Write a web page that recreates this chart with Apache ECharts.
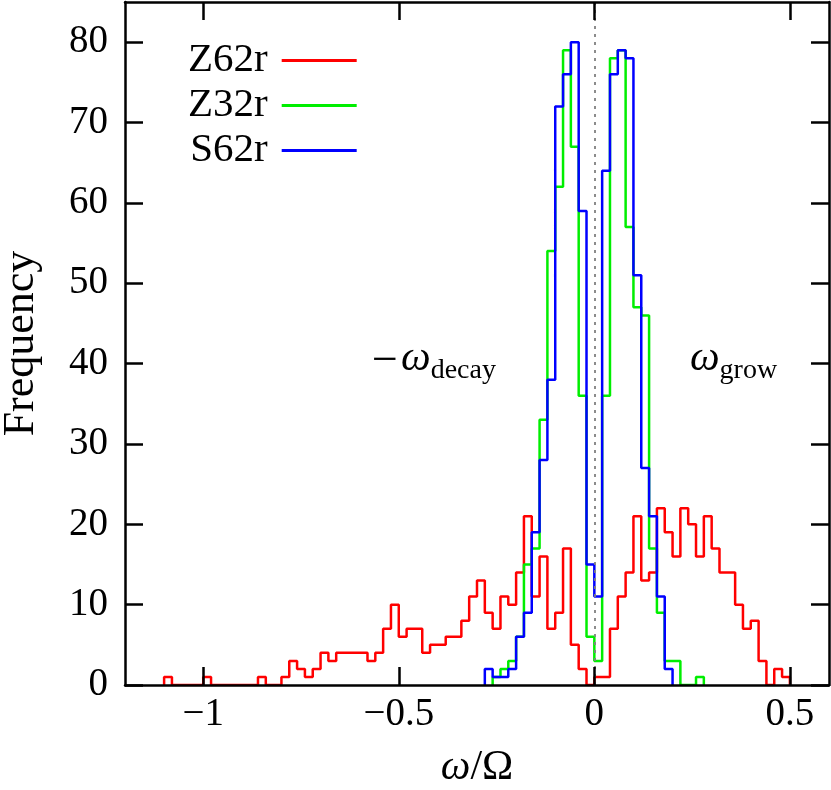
<!DOCTYPE html>
<html>
<head>
<meta charset="utf-8">
<script src="https://cdn.jsdelivr.net/npm/echarts@6/dist/echarts.min.js"></script>
<style>
html,body{margin:0;padding:0;background:#fff;}
#chart{width:831px;height:790px;}
</style>
</head>
<body>
<div id="chart"></div>
<script>
// ---- data (histogram counts per bin of width 0.02) ----
const binWidth = 0.02;
const seriesNames = ['Z62r', 'Z32r', 'S62r'];
// Z62r: bins starting at omega = -1.10
const z62rStart = -1.10;
const z62rCounts = [1,0,0,0,0, 1,0,0,0,0,0,0, 1,0,0,
  1,3,2,1,2,4,3,4,4,4,4,3,4,7,10,
  6,7,7,4,5,5,6,6,8,11,13,9,7,11,10,14,21,11,16,7,9,17,5,2,0,
  1,1,7,11,14,21,13,14,22,19,16,22,20,16,21,17,14,14,10,7,8,3,0,2,1];
// Z32r: bins starting at omega = -0.26
const z32rStart = -0.26;
const z32rCounts = [1,2,3,6,15,17,33,54,62,79,67,36,6,3,36,78,79,57,47,46,17,9,3,3,0,0,1];
// S62r: bins starting at omega = -0.28
const s62rStart = -0.28;
const s62rCounts = [2,1,1,2,6,9,19,28,38,72,76,80,59,15,11,64,76,79,78,51,27,21,11,2];

const xTicks = [-1, -0.5, 0, 0.5];
const yTicks = [0, 10, 20, 30, 40, 50, 60, 70, 80];
const xRange = [-1.2, 0.6];
const yRange = [0, 85];
const annotations = [
  {text: 'decay', sign: '−', at: [-0.41, 40.6]},
  {text: 'grow', sign: '', at: [0.356, 40.6]}
];

// ---- build step data from the counts ----
function stepData(start, counts) {
  const pts = [[start, 0]];
  counts.forEach((c, i) => pts.push([+(start + i * binWidth).toFixed(4), c]));
  pts.push([+(start + counts.length * binWidth).toFixed(4), 0]);
  return pts;
}

const FONT = '"Liberation Serif", "DejaVu Serif", serif';
const colors = ['#ff0000', '#00ee00', '#0000ff'];
const fmtNum = v => (v < 0 ? '−' + Math.abs(v) : String(v));
const LW = 2.5;

const axisCommon = {
  axisLine: {show: true, onZero: false, lineStyle: {color: '#000', width: 2.5}},
  axisTick: {show: true, inside: true, length: 18, lineStyle: {color: '#000', width: 2.5}},
  splitLine: {show: false},
  z: 10
};

const chart = echarts.init(document.getElementById('chart'), null, {renderer: 'canvas'});

const richLabel = {
  m: {fontFamily: FONT, fontSize: 46, color: '#000', lineHeight: 52, verticalAlign: 'middle', padding: [6, 3, 0, 0]},
  w: {fontFamily: FONT, fontSize: 42, fontStyle: 'italic', color: '#000', lineHeight: 52, verticalAlign: 'middle'},
  s: {fontFamily: FONT, fontSize: 28, color: '#000', lineHeight: 26, verticalAlign: 'bottom'}
};

const option = {
  animation: false,
  backgroundColor: '#fff',
  grid: {left: 125, right: 2, top: 2, bottom: 105, containLabel: false, outerBoundsMode: 'none'},
  legend: {
    orient: 'vertical',
    left: 183,
    top: 35,
    align: 'right',
    icon: 'rect',
    itemWidth: 75,
    itemHeight: 3,
    itemGap: 4,
    data: seriesNames,
    textStyle: {fontFamily: FONT, fontSize: 41, color: '#000', lineHeight: 41, padding: [0, 9, 0, 0]}
  },
  xAxis: [
    Object.assign({}, axisCommon, {
      type: 'value', position: 'bottom', min: xRange[0], max: xRange[1],
      axisTick: Object.assign({}, axisCommon.axisTick, {customValues: xTicks}),
      axisLabel: {customValues: xTicks, formatter: fmtNum, fontFamily: FONT, fontSize: 39, color: '#000', margin: 10},
      name: '{w|ω}{n|/Ω}', nameLocation: 'middle', nameGap: 62,
      nameTextStyle: {rich: {
        w: {fontFamily: FONT, fontSize: 42, fontStyle: 'italic', color: '#000'},
        n: {fontFamily: FONT, fontSize: 42, color: '#000'}
      }}
    }),
    Object.assign({}, axisCommon, {
      type: 'value', position: 'top', min: xRange[0], max: xRange[1],
      axisTick: Object.assign({}, axisCommon.axisTick, {customValues: xTicks}),
      axisLabel: {show: false}
    })
  ],
  yAxis: [
    Object.assign({}, axisCommon, {
      type: 'value', position: 'left', min: yRange[0], max: yRange[1],
      axisTick: Object.assign({}, axisCommon.axisTick, {customValues: yTicks}),
      axisLabel: {customValues: yTicks, fontFamily: FONT, fontSize: 39, color: '#000', margin: 17},
      name: 'Frequency', nameLocation: 'middle', nameGap: 82, nameRotate: 90,
      nameTextStyle: {fontFamily: FONT, fontSize: 44, color: '#000'}
    }),
    Object.assign({}, axisCommon, {
      type: 'value', position: 'right', min: yRange[0], max: yRange[1],
      axisTick: Object.assign({}, axisCommon.axisTick, {customValues: yTicks}),
      axisLabel: {show: false}
    })
  ],
  series: [
    {
      name: seriesNames[0], type: 'line', step: 'end', symbol: 'none',
      xAxisIndex: 0, yAxisIndex: 0,
      data: stepData(z62rStart, z62rCounts),
      itemStyle: {color: colors[0]},
      lineStyle: {color: colors[0], width: LW},
      markLine: {
        silent: true, symbol: ['none', 'none'], label: {show: false},
        lineStyle: {color: '#808080', type: [3, 5], width: 1.8},
        data: [{xAxis: 0}]
      }
    },
    {
      name: seriesNames[1], type: 'line', step: 'end', symbol: 'none',
      xAxisIndex: 0, yAxisIndex: 0,
      data: stepData(z32rStart, z32rCounts),
      itemStyle: {color: colors[1]},
      lineStyle: {color: colors[1], width: LW}
    },
    {
      name: seriesNames[2], type: 'line', step: 'end', symbol: 'none',
      xAxisIndex: 0, yAxisIndex: 0,
      data: stepData(s62rStart, s62rCounts),
      itemStyle: {color: colors[2]},
      lineStyle: {color: colors[2], width: LW},
      markPoint: {
        silent: true, symbol: 'circle', symbolSize: 0,
        itemStyle: {color: 'transparent'},
        label: {show: true, position: 'inside', color: '#000', rich: richLabel},
        data: annotations.map(a => ({
          coord: a.at,
          label: {formatter: (a.sign ? '{m|' + a.sign + '}' : '') + '{w|ω}{s|' + a.text + '}'}
        }))
      }
    }
  ]
};

chart.setOption(option);
</script>
</body>
</html>
